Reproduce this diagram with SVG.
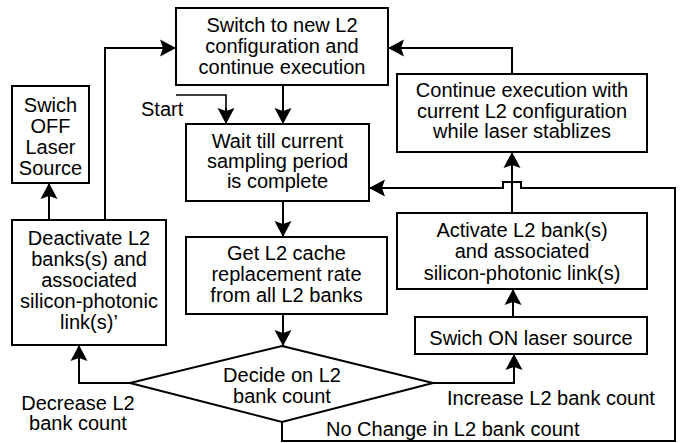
<svg xmlns="http://www.w3.org/2000/svg" width="683" height="443" viewBox="0 0 683 443">
  <style>
    .box { fill: #fff; stroke: #000; stroke-width: 2; }
    .t { font-family: "Liberation Sans", Arial, sans-serif; font-size: 20px; fill: #000; }
    .c { text-anchor: middle; }
    .ln { fill: none; stroke: #000; stroke-width: 2; marker-end: url(#ah); }
    .ln0 { fill: none; stroke: #000; stroke-width: 2; }
  </style>
  <defs>
    <marker id="ah" markerUnits="userSpaceOnUse" markerWidth="20" markerHeight="20" viewBox="-17 -10 20 20" refX="0" refY="0" orient="auto">
      <path d="M0,0 L-16,-8.5 L-13,0 L-16,8.5 Z" fill="#000"/>
    </marker>
  </defs>
  <rect width="683" height="443" fill="#fff"/>

  <g id="connectors">
    <path class="ln" d="M283,85 V124"/>
    <path class="ln0" d="M176,95 H226 V110" style="stroke-width:1.6"/>
    <path class="ln" d="M226,108 V124"/>
    <path class="ln" d="M283,201 V237"/>
    <path class="ln" d="M283,314 V346"/>
    <path class="ln" d="M130,383 H79 V345"/>
    <path class="ln" d="M49,220 V183"/>
    <path class="ln" d="M105,220 V48 H176"/>
    <path class="ln" d="M433,383 H514 V354"/>
    <path class="ln" d="M513,317 V289"/>
    <path class="ln" d="M512,212 V152"/>
    <path class="ln" d="M512,74 V48 H388"/>
    <path class="ln" d="M282,422 V441 H675 V188 H521 V182 H503 V188 H369"/>
  </g>

  <g id="switch-new-config">
    <rect class="box" x="176" y="8" width="212" height="77"/>
    <text class="t c" x="282" y="32">Switch to new L2</text>
    <text class="t c" x="282" y="53">configuration and</text>
    <text class="t c" x="282" y="74">continue execution</text>
  </g>

  <g id="swich-off">
    <rect class="box" x="12" y="86" width="77" height="97"/>
    <text class="t c" x="50.5" y="112">Swich</text>
    <text class="t c" x="50.5" y="133">OFF</text>
    <text class="t c" x="50.5" y="154">Laser</text>
    <text class="t c" x="50.5" y="175">Source</text>
  </g>

  <g id="start">
    <text class="t" x="141" y="116">Start</text>
  </g>

  <g id="wait">
    <rect class="box" x="186" y="124" width="183" height="77"/>
    <text class="t c" x="277.5" y="148">Wait till current</text>
    <text class="t c" x="277.5" y="168">sampling period</text>
    <text class="t c" x="277.5" y="188">is complete</text>
  </g>

  <g id="continue">
    <rect class="box" x="397" y="74" width="250" height="78"/>
    <text class="t c" x="522" y="97">Continue execution with</text>
    <text class="t c" x="522" y="118">current L2 configuration</text>
    <text class="t c" x="522" y="138">while laser stablizes</text>
  </g>

  <g id="deactivate">
    <rect class="box" x="12" y="220" width="154" height="125"/>
    <text class="t c" x="89" y="245">Deactivate L2</text>
    <text class="t c" x="89" y="266">banks(s) and</text>
    <text class="t c" x="89" y="287">associated</text>
    <text class="t c" x="89" y="308">silicon-photonic</text>
    <text class="t c" x="89" y="329">link(s)’</text>
  </g>

  <g id="get-rate">
    <rect class="box" x="186" y="237" width="201" height="77"/>
    <text class="t c" x="286.5" y="260">Get L2 cache</text>
    <text class="t c" x="286.5" y="281">replacement rate</text>
    <text class="t c" x="286.5" y="302">from all L2 banks</text>
  </g>

  <g id="activate">
    <rect class="box" x="397" y="213" width="250" height="76"/>
    <text class="t c" x="522" y="237">Activate L2 bank(s)</text>
    <text class="t c" x="522" y="258">and associated</text>
    <text class="t c" x="522" y="280">silicon-photonic link(s)</text>
  </g>

  <g id="swich-on">
    <rect class="box" x="415" y="317" width="232" height="37"/>
    <text class="t c" x="531" y="345">Swich ON laser source</text>
  </g>

  <g id="decide">
    <polygon class="box" points="282,346 433,383 282,422 130,383"/>
    <text class="t c" x="282" y="382">Decide on L2</text>
    <text class="t c" x="282" y="403">bank count</text>
  </g>

  <g id="labels">
    <text class="t c" x="78" y="410">Decrease L2</text>
    <text class="t c" x="78" y="430">bank count</text>
    <text class="t" x="447" y="405">Increase L2 bank count</text>
    <text class="t" x="326" y="436">No Change in L2 bank count</text>
  </g>
</svg>
